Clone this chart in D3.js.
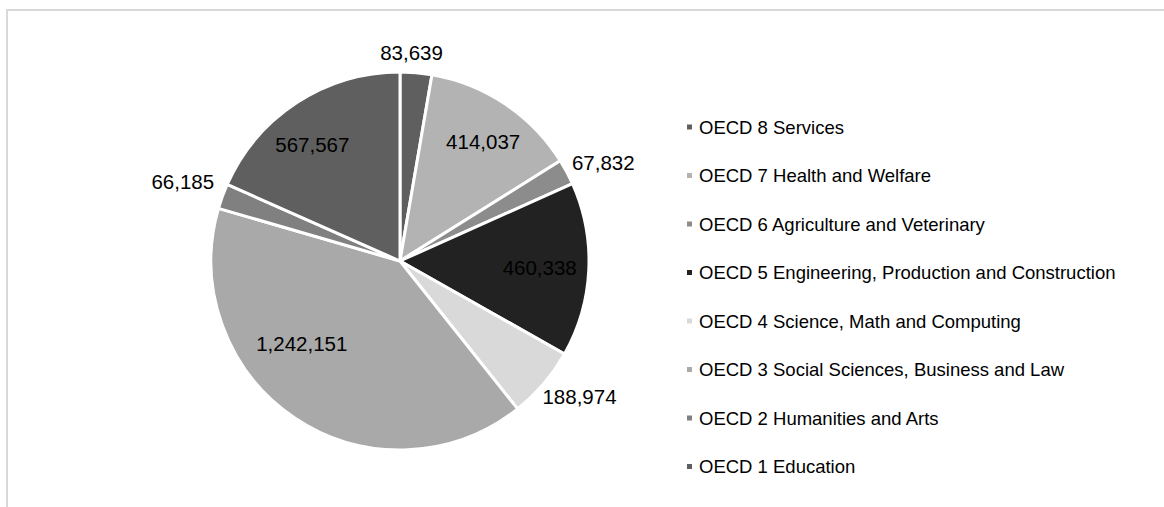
<!DOCTYPE html>
<html>
<head>
<meta charset="utf-8">
<script src="https://cdn.jsdelivr.net/npm/d3@7"></script>
<style>
  html, body { margin: 0; padding: 0; background: #fff; }
  svg { display: block; font-family: "Liberation Sans", Arial, sans-serif; }
</style>
</head>
<body>
<svg id="chart" width="1164" height="507"></svg>
<script>
// Graduates by OECD field of study, drawn clockwise from 12 o'clock
const categories = [
  "OECD 8 Services",
  "OECD 7 Health and Welfare",
  "OECD 6 Agriculture and Veterinary",
  "OECD 5 Engineering, Production and Construction",
  "OECD 4 Science, Math and Computing",
  "OECD 3 Social Sciences, Business and Law",
  "OECD 2 Humanities and Arts",
  "OECD 1 Education"
];
const values = [83639, 414037, 67832, 460338, 188974, 1242151, 66185, 567567];
const fills = ["#5f5f5f", "#b3b3b3", "#8c8c8c", "#222222", "#d9d9d9", "#a9a9a9", "#808080", "#5f5f5f"];
// where each value label sits: inside the slice or just beyond its rim
const labelInside = [false, true, false, true, false, true, false, true];
// small angular nudges (degrees) and radial factors for the value labels
const labelNudge = [-2, 1, 0, 0, 0, 16, 2, -4];
const labelRadius = [1.053, 0.77, 1.053, 0.74, 1.053, 0.68, 1.074, 0.77];

const svg = d3.select("#chart");
const fmt = d3.format(",");

// outer frame
svg.append("rect")
  .attr("x", 7).attr("y", 10)
  .attr("width", 1200).attr("height", 600)
  .attr("fill", "none")
  .attr("stroke", "#d9d9d9")
  .attr("stroke-width", 2);

const cx = 400, cy = 261, r = 189;
const g = svg.append("g").attr("transform", `translate(${cx},${cy})`);

const pie = d3.pie().sort(null).value(d => d)(values);
const arc = d3.arc().innerRadius(0).outerRadius(r);

g.selectAll("path.slice")
  .data(pie)
  .join("path")
  .attr("class", "slice")
  .attr("d", arc)
  .attr("fill", (d, i) => fills[i])
  .attr("stroke", "#fff")
  .attr("stroke-width", 3)
  .attr("stroke-linejoin", "round");

// value labels
const labelSize = 20.5;
pie.forEach((d, i) => {
  const mid = (d.startAngle + d.endAngle) / 2 + labelNudge[i] * Math.PI / 180;
  const s = Math.sin(mid), c = Math.cos(mid);
  const rr = r * labelRadius[i];
  const t = g.append("text")
    .attr("font-size", labelSize)
    .attr("fill", "#000")
    .attr("text-anchor", "middle")
    .attr("dominant-baseline", "central")
    .text(fmt(values[i]));
  if (labelInside[i]) {
    t.attr("x", rr * s).attr("y", -rr * c);
  } else {
    // push the label box outward so its inner edge touches the anchor point
    const w = t.node().getComputedTextLength();
    const h = labelSize;
    const px = rr * s, py = -rr * c;
    t.attr("x", px + (w / 2) * s).attr("y", py - (h / 2) * c);
  }
});

// legend
const legend = svg.append("g");
const rowY = d3.scalePoint().domain(d3.range(categories.length)).range([127, 466.5]);
categories.forEach((name, i) => {
  const y = rowY(i);
  legend.append("rect")
    .attr("x", 687).attr("y", y - 2.5)
    .attr("width", 5).attr("height", 5)
    .attr("fill", fills[i]);
  legend.append("text")
    .attr("x", 699).attr("y", y)
    .attr("dominant-baseline", "central")
    .attr("font-size", 18.5)
    .attr("fill", "#000")
    .text(name);
});
</script>
</body>
</html>
